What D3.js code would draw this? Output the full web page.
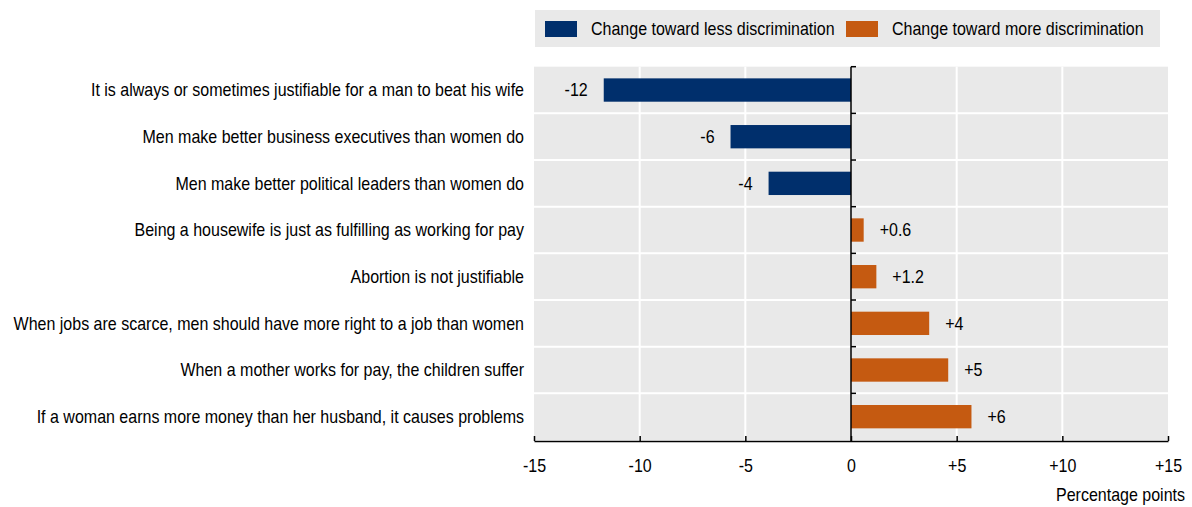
<!DOCTYPE html>
<html><head><meta charset="utf-8">
<script src="https://cdn.jsdelivr.net/npm/d3@7"></script>
<style>
body{margin:0;background:#fff;}
text{font-family:"Liberation Sans",Arial,sans-serif;fill:#000;}
</style></head>
<body><svg id="c" width="1192" height="507"></svg>
<script>
const categories = [
  "It is always or sometimes justifiable for a man to beat his wife",
  "Men make better business executives than women do",
  "Men make better political leaders than women do",
  "Being a housewife is just as fulfilling as working for pay",
  "Abortion is not justifiable",
  "When jobs are scarce, men should have more right to a job than women",
  "When a mother works for pay, the children suffer",
  "If a woman earns more money than her husband, it causes problems"
];
const values = [-11.7, -5.7, -3.9, 0.6, 1.2, 3.7, 4.6, 5.7];
const valueLabels = ["-12", "-6", "-4", "+0.6", "+1.2", "+4", "+5", "+6"];
const xTicks = [-15, -10, -5, 0, 5, 10, 15];
const legendLabels = ["Change toward less discrimination", "Change toward more discrimination"];
const colors = {neg: "#002f6c", pos: "#c55a11"};

const FS = 18, SQUEEZE = 0.89;
// condensed look: move x/y into a transform and squeeze horizontally
function narrow(sel) {
  sel.attr("font-size", FS).each(function () {
    const t = d3.select(this);
    const tx = +t.attr("x") || 0, ty = +t.attr("y") || 0;
    t.attr("x", null).attr("y", null)
     .attr("transform", `translate(${tx},${ty}) scale(${SQUEEZE},1)`);
  });
}

const svg = d3.select("#c");
const top0 = 66.7, bot0 = 440;
const x = d3.scaleLinear().domain([-15, 15]).range([534, 1168]);
const y = d3.scaleBand().domain(categories).range([top0, bot0]).paddingInner(0.5).paddingOuter(0.25);
const step = y.step();

svg.append("rect").attr("x", x(-15)).attr("y", top0).attr("width", x(15) - x(-15)).attr("height", bot0 - top0).attr("fill", "#e9e9e9");

svg.append("g").selectAll("line").data(xTicks.filter(d => d !== 0 && Math.abs(d) !== 15)).join("line")
  .attr("x1", d => x(d)).attr("x2", d => x(d)).attr("y1", top0).attr("y2", bot0)
  .attr("stroke", "#fff").attr("stroke-width", 2);

const bounds = d3.range(1, categories.length).map(i => top0 + i * step);
svg.append("g").selectAll("line").data(bounds).join("line")
  .attr("x1", x(-15)).attr("x2", x(15)).attr("y1", d => d).attr("y2", d => d)
  .attr("stroke", "#fff").attr("stroke-width", 2);

svg.append("g").selectAll("rect").data(values).join("rect")
  .attr("x", d => x(Math.min(0, d)))
  .attr("width", d => Math.abs(x(d) - x(0)))
  .attr("y", (d, i) => y(categories[i]))
  .attr("height", y.bandwidth())
  .attr("fill", d => d < 0 ? colors.neg : colors.pos);

svg.append("g").selectAll("text").data(values).join("text")
  .attr("x", d => d < 0 ? x(d) - 16 : x(d) + 16)
  .attr("y", (d, i) => y(categories[i]) + y.bandwidth() / 2)
  .attr("dy", "0.35em")
  .attr("text-anchor", d => d < 0 ? "end" : "start")
  .text((d, i) => valueLabels[i])
  .call(narrow);

svg.append("g").selectAll("text").data(categories).join("text")
  .attr("x", 524)
  .attr("y", d => y(d) + y.bandwidth() / 2)
  .attr("dy", "0.35em")
  .attr("text-anchor", "end")
  .text(d => d)
  .call(narrow);

const zg = svg.append("g");
zg.append("line").attr("x1", x(0)).attr("x2", x(0)).attr("y1", top0).attr("y2", 441).attr("stroke", "#000").attr("stroke-width", 1.5);
zg.selectAll("line.t").data([top0, ...bounds]).join("line").attr("class", "t")
  .attr("x1", x(0)).attr("x2", x(0) + 5).attr("y1", d => d).attr("y2", d => d)
  .attr("stroke", "#000").attr("stroke-width", 1.5);

const ax = svg.append("g").attr("transform", "translate(0,441)")
  .call(d3.axisBottom(x).tickValues(xTicks).tickSizeInner(-5).tickSizeOuter(0).tickPadding(18)
    .tickFormat(d => d > 0 ? "+" + d : String(d)));
ax.attr("font-family", null).attr("font-size", null);
ax.select(".domain").attr("stroke", "#000").attr("stroke-width", 1.5);
ax.selectAll(".tick line").attr("stroke", "#000").attr("stroke-width", 1.5);
ax.selectAll(".tick text").attr("fill", "#000").call(narrow);

svg.append("text").attr("x", 1185).attr("y", 501).attr("text-anchor", "end").text("Percentage points").call(narrow);

const lg = svg.append("g");
lg.append("rect").attr("x", 535).attr("y", 10).attr("width", 625).attr("height", 37).attr("fill", "#e9e9e9");
const legX = [545, 846];
legendLabels.forEach((t, i) => {
  lg.append("rect").attr("x", legX[i]).attr("y", 21).attr("width", 32).attr("height", 16).attr("fill", i === 0 ? colors.neg : colors.pos);
  lg.append("text").attr("x", legX[i] + 46).attr("y", 29).attr("dy", "0.35em").text(t).call(narrow);
});
</script></body></html>
